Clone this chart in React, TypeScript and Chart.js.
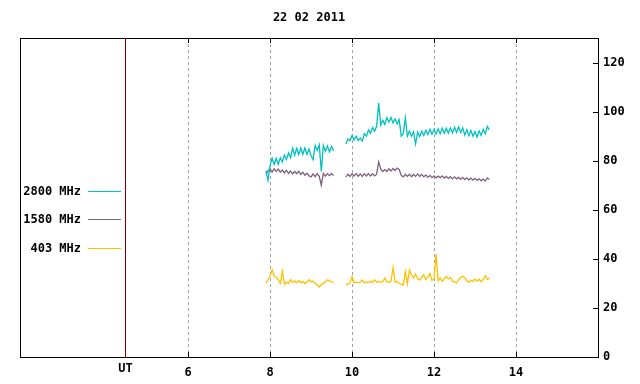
import React, { useEffect, useRef } from 'react';
import { Chart, registerables } from 'chart.js';

Chart.register(...registerables);

const TITLE = '22 02 2011';
const X_TICKS = [6, 8, 10, 12, 14];
const Y_TICKS = [0, 20, 40, 60, 80, 100, 120];
const X_MIN = 1.9;
const X_MAX = 16;
const Y_MIN = 0;
const Y_MAX = 130;
const UT_POS = 4.46;
const UT_LABEL = 'UT';
const GAP_T = 9.7;

const SERIES_NAMES = ['2800 MHz', '1580 MHz', '403 MHz'];
const SERIES_COLORS = ['#00c0c0', '#806080', '#ffc000'];

// sample times (UT hours), first and second observing segments
const T1 = [7.90, 7.95, 8.00, 8.05, 8.10, 8.15, 8.20, 8.25, 8.30, 8.35,
  8.40, 8.45, 8.50, 8.55, 8.60, 8.65, 8.70, 8.75, 8.80, 8.85,
  8.90, 8.95, 9.00, 9.05, 9.10, 9.15, 9.20, 9.25, 9.30, 9.35,
  9.40, 9.45, 9.50, 9.55];
const T2 = [9.85, 9.90, 9.95, 10.00, 10.05, 10.10, 10.15, 10.20, 10.25, 10.30,
  10.35, 10.40, 10.45, 10.50, 10.55, 10.60, 10.65, 10.70, 10.75, 10.80,
  10.85, 10.90, 10.95, 11.00, 11.05, 11.10, 11.15, 11.20, 11.25, 11.30,
  11.35, 11.40, 11.45, 11.50, 11.55, 11.60, 11.65, 11.70, 11.75, 11.80,
  11.85, 11.90, 11.95, 12.00, 12.05, 12.10, 12.15, 12.20, 12.25, 12.30,
  12.35, 12.40, 12.45, 12.50, 12.55, 12.60, 12.65, 12.70, 12.75, 12.80,
  12.85, 12.90, 12.95, 13.00, 13.05, 13.10, 13.15, 13.20, 13.25, 13.30,
  13.35];

// 2800 MHz
const F2800_A = [76, 72, 78, 81, 78.5, 81, 78.5, 81.2, 79.5, 82.3,
  80.5, 83.2, 81.2, 85, 82.2, 85, 82.5, 85.2, 82.6, 85.2,
  82.6, 84.8, 82, 80.4, 86.2, 84.2, 86.5, 75.6, 86.3, 83.8,
  86, 83.6, 85.8, 84];
const F2800_B = [86.8, 88.8, 88.2, 90.2, 88.4, 90, 88.2, 89.2, 88, 91,
  90, 92.5, 91.2, 93.5, 92, 94, 103.5, 94.5, 96.5, 94.8,
  97.5, 95.8, 97.6, 95.4, 97, 95, 96.8, 90, 91, 97.4,
  90, 92, 90, 91.8, 86.8, 91.6, 89.8, 92, 90.3, 92.4,
  90.6, 92.8, 90.8, 92.8, 90.9, 93, 91, 93.2, 91.2, 93.2,
  91.2, 93.3, 91.4, 93.6, 91.5, 93.8, 91.5, 93.4, 90.5, 92.6,
  90.2, 92.3, 90, 91.9, 89.6, 92.2, 90.3, 92.8, 91, 94,
  92.5];

// 1580 MHz
const F1580_A = [74.3, 75.8, 76.8, 75.4, 76.7, 75.6, 76.6, 75.3, 76.2, 75,
  76.1, 74.8, 75.8, 74.6, 75.6, 74.8, 75.7, 74.4, 75.3, 74.1,
  74.9, 73.8, 73.4, 74.6, 73.5, 74.7, 73.6, 70, 74.8, 73.7,
  74.7, 73.9, 74.8, 73.9];
const F1580_B = [73.3, 74.5, 73.6, 74.7, 73.8, 74.8, 73.7, 74.6, 73.6, 74.7,
  73.8, 74.8, 73.8, 74.7, 73.8, 74.5, 79.5, 76.6, 75.6, 76.4,
  75.6, 76.7, 75.8, 76.8, 76, 77, 76.4, 74, 73.4, 74.4,
  73.6, 74.5, 73.5, 74.4, 73.6, 74.6, 73.6, 74.4, 73.4, 74.2,
  73.2, 74, 73.1, 73.8, 73, 73.7, 73.1, 73.8, 72.9, 73.6,
  72.8, 73.5, 72.6, 73.4, 72.6, 73.2, 72.4, 73.2, 72.3, 73,
  72.1, 72.9, 72.1, 72.8, 72, 72.6, 71.8, 72.5, 71.7, 73,
  72.3];

// 403 MHz
const F403_A = [30, 31.5, 33, 35.5, 33, 32.5, 31.5, 30, 35, 29.6,
  30.5, 30, 31.5, 30.4, 31, 30.3, 31.2, 30.2, 30.8, 30,
  30.5, 31.5, 30.6, 31, 30, 29.5, 28.5, 29.5, 30, 30.8,
  31.5, 31, 30.6, 30.4];
const F403_B = [29.4, 29.8, 30.2, 32.8, 30.2, 30.6, 30.2, 30.5, 31.4, 30.2,
  30.6, 30.3, 30.8, 30.4, 31.5, 30.5, 30.8, 30.4, 30.8, 32.2,
  30.6, 30.4, 30.8, 36.4, 30.4, 30.8, 30, 29.6, 29.4, 34.8,
  29.8, 35.5, 33.5, 32.2, 33.8, 31.8, 31.4, 32.4, 33.5, 31.6,
  32.8, 34, 31.2, 31.8, 42, 31, 32.2, 30.8, 31.9, 32.8,
  31.8, 32.4, 30.8, 30.6, 30.2, 31.5, 32.4, 33, 32.3, 31,
  30.5, 31.2, 30.8, 31.8, 30.9, 31.7, 30.7, 31.6, 33.1, 31.6,
  32.2];

const FONT_FAMILY = '"DejaVu Sans Mono", "Liberation Mono", monospace';
const FONT_CSS = `bold 12px ${FONT_FAMILY}`;

function buildSeries(ta: number[], va: number[], tb: number[], vb: number[]) {
  return [
    ...ta.map((t, i) => ({ x: t, y: va[i] })),
    { x: GAP_T, y: null as any },
    ...tb.map((t, i) => ({ x: t, y: vb[i] })),
  ];
}

const decorPlugin = {
  id: 'decor',
  beforeDatasetsDraw(chart: any) {
    const { ctx, chartArea: a, scales } = chart;
    const x = scales.x;
    ctx.save();
    ctx.lineWidth = 1;
    ctx.strokeStyle = '#a0a0a0';
    ctx.setLineDash([3, 3]);
    X_TICKS.forEach((v) => {
      const px = Math.round(x.getPixelForValue(v)) + 0.5;
      ctx.beginPath();
      ctx.moveTo(px, a.top);
      ctx.lineTo(px, a.bottom);
      ctx.stroke();
    });
    ctx.setLineDash([]);
    ctx.strokeStyle = '#800000';
    const ux = Math.round(x.getPixelForValue(UT_POS)) + 0.5;
    ctx.beginPath();
    ctx.moveTo(ux, a.top);
    ctx.lineTo(ux, a.bottom);
    ctx.stroke();
    ctx.restore();
  },
  afterDatasetsDraw(chart: any) {
    const { ctx, chartArea: a, scales } = chart;
    const x = scales.x;
    const y = scales.y;
    ctx.save();
    ctx.lineWidth = 1;
    ctx.strokeStyle = '#000000';
    ctx.strokeRect(a.left + 0.5, a.top + 0.5, a.right - a.left, a.bottom - a.top);
    const TL = 5;
    X_TICKS.forEach((v) => {
      const px = Math.round(x.getPixelForValue(v)) + 0.5;
      ctx.beginPath();
      ctx.moveTo(px, a.bottom);
      ctx.lineTo(px, a.bottom - TL);
      ctx.moveTo(px, a.top);
      ctx.lineTo(px, a.top + TL);
      ctx.stroke();
    });
    Y_TICKS.forEach((v) => {
      const py = Math.round(y.getPixelForValue(v)) + 0.5;
      ctx.beginPath();
      ctx.moveTo(a.right, py);
      ctx.lineTo(a.right - TL, py);
      ctx.stroke();
    });
    // UT label
    ctx.fillStyle = '#000000';
    ctx.font = FONT_CSS;
    ctx.textAlign = 'center';
    ctx.textBaseline = 'middle';
    ctx.fillText(UT_LABEL, Math.round(x.getPixelForValue(UT_POS)) + 0.5, a.bottom + 12);
    // legend
    const legendY = [191, 219, 248];
    SERIES_NAMES.forEach((name, i) => {
      const ly = legendY[i];
      ctx.fillStyle = '#000000';
      ctx.textAlign = 'right';
      ctx.textBaseline = 'middle';
      ctx.fillText(name, 81, ly + 1);
      ctx.strokeStyle = SERIES_COLORS[i];
      ctx.beginPath();
      ctx.moveTo(88, ly + 0.5);
      ctx.lineTo(121, ly + 0.5);
      ctx.stroke();
    });
    ctx.restore();
  },
};

export default function App() {
  const canvasRef = useRef<HTMLCanvasElement | null>(null);

  useEffect(() => {
    document.body.style.margin = '0';
    const canvas = canvasRef.current;
    if (!canvas) return;
    const font = { family: FONT_FAMILY, size: 12, weight: 'bold' as const, lineHeight: 1.2 };
    const seriesData = [
      buildSeries(T1, F2800_A, T2, F2800_B),
      buildSeries(T1, F1580_A, T2, F1580_B),
      buildSeries(T1, F403_A, T2, F403_B),
    ];
    const chart = new Chart(canvas, {
      type: 'line',
      data: {
        datasets: seriesData.map((d, i) => ({
          label: SERIES_NAMES[i],
          data: d,
          borderColor: SERIES_COLORS[i],
          backgroundColor: SERIES_COLORS[i],
          borderWidth: 1.3,
          pointRadius: 0,
          tension: 0,
          spanGaps: false,
          fill: false,
        })),
      },
      options: {
        animation: false,
        responsive: false,
        maintainAspectRatio: false,
        events: [],
        layout: { padding: { left: 20, right: 0, top: 0, bottom: 0 } },
        plugins: {
          legend: { display: false },
          tooltip: { enabled: false },
          title: {
            display: true,
            text: TITLE,
            fullSize: false,
            color: '#000000',
            font,
            padding: { top: 11, bottom: 12.6 },
          },
        },
        scales: {
          x: {
            type: 'linear',
            min: X_MIN,
            max: X_MAX,
            grid: { display: false, drawTicks: false },
            border: { display: false },
            afterBuildTicks: (s: any) => {
              s.ticks = X_TICKS.map((v) => ({ value: v }));
            },
            afterFit: (s: any) => {
              s.height = 27;
            },
            ticks: {
              color: '#000000',
              font,
              padding: 9,
              maxRotation: 0,
              autoSkip: false,
              callback: (v: any) => String(v),
            },
          },
          y: {
            type: 'linear',
            position: 'right',
            min: Y_MIN,
            max: Y_MAX,
            grid: { display: false, drawTicks: false },
            border: { display: false },
            afterBuildTicks: (s: any) => {
              s.ticks = Y_TICKS.map((v) => ({ value: v }));
            },
            afterFit: (s: any) => {
              s.width = 42;
            },
            ticks: {
              color: '#000000',
              font,
              padding: 5,
              callback: (v: any) => String(v),
            },
          },
        },
      },
      plugins: [decorPlugin],
    } as any);
    return () => {
      chart.destroy();
    };
  }, []);

  return (
    <div style={{ width: 640, height: 384 }}>
      <canvas ref={canvasRef} width={640} height={384} style={{ display: 'block' }} />
    </div>
  );
}
